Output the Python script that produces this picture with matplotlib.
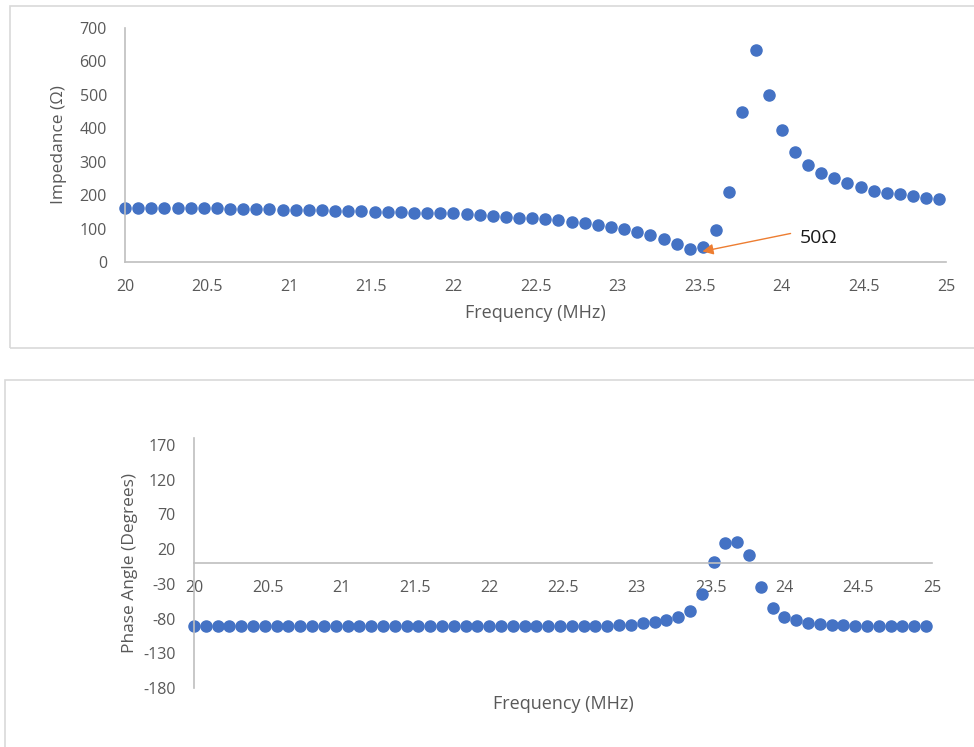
import matplotlib.pyplot as plt
from matplotlib.patches import Rectangle

plt.rcParams['font.family'] = ['Open Sans', 'DejaVu Sans']
plt.rcParams['axes.unicode_minus'] = False

# Frequency points (MHz)
freq = [20.00, 20.08, 20.16, 20.24, 20.32, 20.40, 20.48, 20.56, 20.64, 20.72,
        20.80, 20.88, 20.96, 21.04, 21.12, 21.20, 21.28, 21.36, 21.44, 21.52,
        21.60, 21.68, 21.76, 21.84, 21.92, 22.00, 22.08, 22.16, 22.24, 22.32,
        22.40, 22.48, 22.56, 22.64, 22.72, 22.80, 22.88, 22.96, 23.04, 23.12,
        23.20, 23.28, 23.36, 23.44, 23.52, 23.60, 23.68, 23.76, 23.84, 23.92,
        24.00, 24.08, 24.16, 24.24, 24.32, 24.40, 24.48, 24.56, 24.64, 24.72,
        24.80, 24.88, 24.96]

# Impedance (ohm)
impedance = [163, 163, 163, 163, 161, 161, 161, 161, 159, 159,
             159, 158, 157, 157, 156, 155, 154, 153, 152, 151,
             150, 149, 148, 148, 147, 146, 143, 140, 138, 136,
             133, 131, 128, 125, 121, 116, 110, 105, 99, 90,
             80, 68, 54, 40, 46, 96, 208, 448, 634, 500,
             395, 330, 290, 267, 250, 235, 223, 213, 207, 202,
             197, 192, 189]

# Phase angle (degrees)
phase = [-90, -90, -90, -90, -90, -90, -90, -90, -90, -90,
         -90, -90, -90, -90, -90, -90, -90, -90, -90, -90,
         -90, -90, -90, -90, -90, -90, -90, -90, -90, -90,
         -90, -90, -90, -90, -90, -90, -89.5, -89, -87, -85,
         -82, -78, -69, -45, 2, 29, 30, 12, -35, -65,
         -78, -82, -86, -88, -89, -89, -90, -90, -90, -90,
         -90, -90, -90]

xticks = [20, 20.5, 21, 21.5, 22, 22.5, 23, 23.5, 24, 24.5, 25]
xtick_labels = ['20', '20.5', '21', '21.5', '22', '22.5', '23', '23.5',
                '24', '24.5', '25']

blue = '#4472C4'
axis_grey = '#BFBFBF'
text_grey = '#595959'

fig = plt.figure(figsize=(9.74, 7.47), dpi=100)

# panel frames
W, H = 974, 747
fig.patches.append(Rectangle((10 / W, 1 - 348 / H), 1.0, (348 - 6) / H,
                             transform=fig.transFigure, fill=False,
                             edgecolor='#D9D9D9', lw=1.2))
fig.patches.append(Rectangle((5 / W, -0.05), 1.0, 0.05 + (747 - 380) / H,
                             transform=fig.transFigure, fill=False,
                             edgecolor='#D9D9D9', lw=1.2))

# ---- top: impedance ----
ax1 = fig.add_axes([125 / W, 1 - 262 / H, (946 - 125) / W, (262 - 28) / H])
ax1.plot(freq, impedance, 'o', color=blue, ms=8, clip_on=False)
ax1.set_xlim(20, 25)
ax1.set_ylim(0, 700)
ax1.set_xticks(xticks)
ax1.set_xticklabels(xtick_labels)
ax1.set_yticks(range(0, 701, 100))
ax1.set_xlabel('Frequency (MHz)', fontsize=13, color=text_grey, labelpad=7)
ax1.set_ylabel('Impedance (Ω)', fontsize=12.5, color=text_grey, labelpad=9)

ax1.annotate('', xy=(23.50, 30), xytext=(24.07, 87),
             arrowprops=dict(arrowstyle='-|>', color='#ED7D31', lw=1,
                             mutation_scale=16))
ax1.text(24.11, 72, '50Ω', fontsize=14, color='#1a1a1a', va='center', ha='left')

# ---- bottom: phase ----
ax2 = fig.add_axes([194 / W, 1 - 688 / H, (932 - 194) / W, (688 - 438) / H])
ax2.plot(freq, phase, 'o', color=blue, ms=8, clip_on=False)
ax2.set_xlim(20, 25)
ax2.set_ylim(-180, 180)
ax2.set_xticks(xticks)
ax2.set_xticklabels(xtick_labels)
ax2.set_yticks(range(-180, 171, 50))
ax2.spines['bottom'].set_position(('data', 0))
ax2.set_ylabel('Phase Angle (Degrees)', fontsize=12.5, color=text_grey, labelpad=4)
ax2.text(0.5, -0.065, 'Frequency (MHz)', transform=ax2.transAxes,
         fontsize=13, color=text_grey, ha='center', va='center')

for ax in (ax1, ax2):
    for s in ('top', 'right'):
        ax.spines[s].set_visible(False)
    for s in ('left', 'bottom'):
        ax.spines[s].set_color(axis_grey)
        ax.spines[s].set_linewidth(1.2)
    ax.tick_params(length=0, labelsize=11.5, colors=text_grey)
    ax.tick_params(axis='y', pad=13)
    ax.tick_params(axis='x', pad=12)
    ax.set_facecolor('none')

fig.savefig('out.png', dpi=100)
